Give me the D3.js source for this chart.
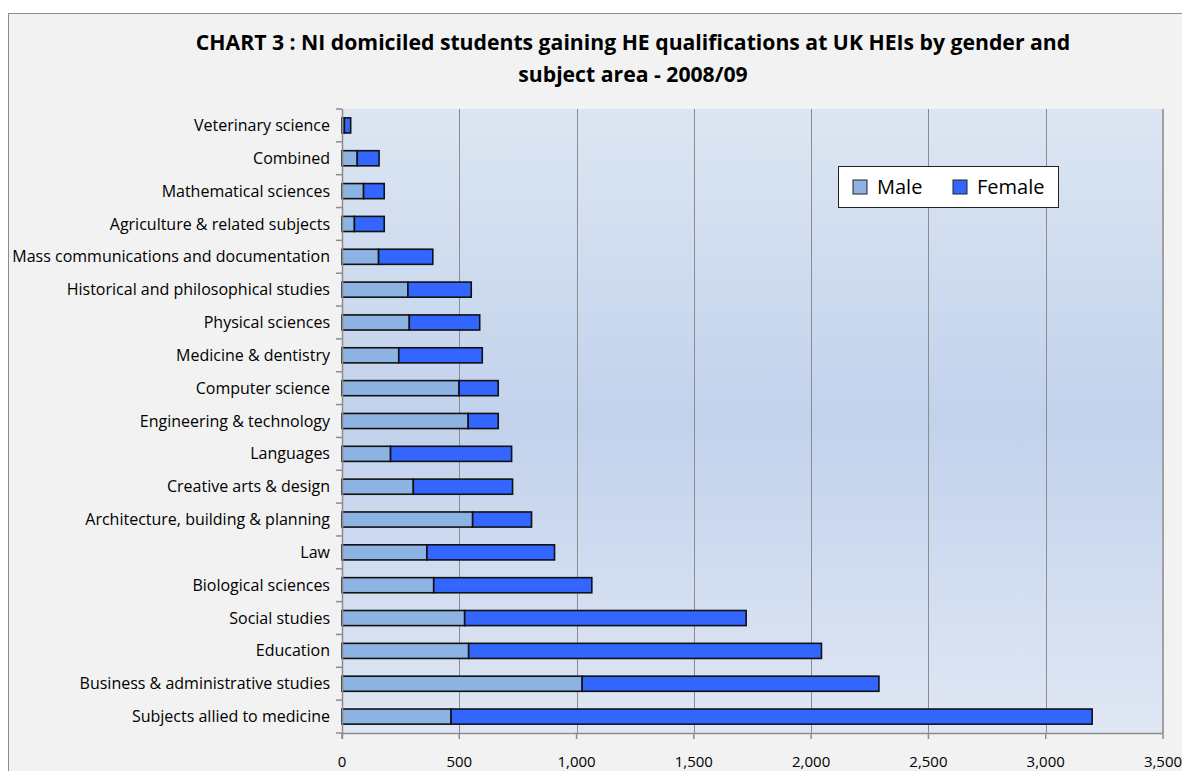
<!DOCTYPE html>
<html><head><meta charset="utf-8">
<script src="https://cdn.jsdelivr.net/npm/d3@7"></script>
<style>
html,body{margin:0;padding:0;background:#fff;}
svg{display:block;}
</style></head>
<body>
<svg id="chart" width="1182" height="771"></svg>
<script>
const categories = [
  "Veterinary science",
  "Combined",
  "Mathematical sciences",
  "Agriculture & related subjects",
  "Mass communications and documentation",
  "Historical and philosophical studies",
  "Physical sciences",
  "Medicine & dentistry",
  "Computer science",
  "Engineering & technology",
  "Languages",
  "Creative arts & design",
  "Architecture, building & planning",
  "Law",
  "Biological sciences",
  "Social studies",
  "Education",
  "Business & administrative studies",
  "Subjects allied to medicine"
];
const maleValues =   [10, 65, 92, 53, 156, 281, 287, 242, 499, 538, 207, 304, 557, 362, 391, 523, 540, 1024, 465];
const femaleValues = [27, 93, 88, 127, 231, 270, 300, 356, 167, 128, 516, 423, 251, 544, 674, 1200, 1504, 1265, 2733];
const seriesNames = ["Male", "Female"];
const xTicks = [0, 500, 1000, 1500, 2000, 2500, 3000, 3500];
const titleLines = ["CHART 3 : NI domiciled students gaining HE qualifications at UK HEIs by gender and", "subject area - 2008/09"];

const colors = {Male: "#8db3e2", Female: "#3366ff"};
const svg = d3.select("#chart");
const FONT = "'Open Sans', Lato, sans-serif";

// chart background
svg.append("rect").attr("x", 0).attr("y", 0).attr("width", 1182).attr("height", 771).attr("fill", "#ffffff");
svg.append("rect").attr("x", 8.5).attr("y", 13.5).attr("width", 1190).attr("height", 780)
  .attr("fill", "#f2f2f2").attr("stroke", "#8c8c8c").attr("stroke-width", 1);

const plot = {left: 342, top: 109, right: 1163, bottom: 733};

const defs = svg.append("defs");
const grad = defs.append("linearGradient").attr("id", "bg").attr("x1", 0).attr("y1", 0).attr("x2", 0).attr("y2", 1);
grad.append("stop").attr("offset", "0%").attr("stop-color", "#dce6f2");
grad.append("stop").attr("offset", "50%").attr("stop-color", "#c2d2ec");
grad.append("stop").attr("offset", "100%").attr("stop-color", "#e0e7f4");

svg.append("rect").attr("x", plot.left).attr("y", plot.top)
  .attr("width", plot.right - plot.left).attr("height", plot.bottom - plot.top)
  .attr("fill", "url(#bg)");

const x = d3.scaleLinear().domain([0, 3500]).range([plot.left, plot.right]);
const y = d3.scaleBand().domain(categories).range([plot.top, plot.bottom]).paddingInner(0.54).paddingOuter(0.27);
const yb = d3.scaleBand().domain(categories).range([plot.top, plot.bottom]);

// gridlines
svg.append("g").selectAll("line").data(xTicks.filter(d => d > 0 && d < 3500)).join("line")
  .attr("x1", d => Math.round(x(d)) + 0.5).attr("x2", d => Math.round(x(d)) + 0.5)
  .attr("y1", plot.top).attr("y2", plot.bottom)
  .attr("stroke", "#8c8c8c").attr("stroke-width", 1);

// right border
svg.append("line").attr("x1", plot.right).attr("x2", plot.right).attr("y1", plot.top).attr("y2", plot.bottom)
  .attr("stroke", "#a0a0a0").attr("stroke-width", 2);

// stacked data
const rows = categories.map((c, i) => ({cat: c, Male: maleValues[i], Female: femaleValues[i]}));
const stack = d3.stack().keys(seriesNames)(rows);

svg.append("g").selectAll("g").data(stack).join("g")
  .attr("fill", d => colors[d.key])
  .selectAll("rect").data(d => d).join("rect")
  .attr("x", d => x(d[0]))
  .attr("y", d => y(d.data.cat))
  .attr("width", d => x(d[1]) - x(d[0]))
  .attr("height", y.bandwidth())
  .attr("stroke", "#111").attr("stroke-width", 1.6);

// y axis
const yAxisG = svg.append("g").attr("transform", `translate(${plot.left},0)`);
yAxisG.append("line").attr("x1", 0.5).attr("x2", 0.5).attr("y1", plot.top).attr("y2", plot.bottom + 6)
  .attr("stroke", "#8c8c8c").attr("stroke-width", 1.5);
const bounds = categories.map(c => yb(c)).concat([plot.bottom]);
yAxisG.selectAll("line.tk").data(bounds).join("line").attr("class", "tk")
  .attr("x1", -6).attr("x2", 0).attr("y1", d => d).attr("y2", d => d)
  .attr("stroke", "#8c8c8c").attr("stroke-width", 1.5);
yAxisG.selectAll("text").data(categories).join("text")
  .attr("x", -12).attr("y", d => yb(d) + yb.bandwidth() / 2)
  .attr("dy", "0.35em").attr("text-anchor", "end")
  .attr("font-family", FONT).attr("font-size", 16).attr("fill", "#000")
  .text(d => d);

// x axis
const xAxisG = svg.append("g").attr("transform", `translate(0,${plot.bottom})`);
xAxisG.append("line").attr("x1", plot.left).attr("x2", plot.right).attr("y1", 0.5).attr("y2", 0.5)
  .attr("stroke", "#8c8c8c").attr("stroke-width", 1.5);
xAxisG.selectAll("line.tk").data(xTicks).join("line").attr("class", "tk")
  .attr("x1", d => x(d)).attr("x2", d => x(d)).attr("y1", 0).attr("y2", 6)
  .attr("stroke", "#8c8c8c").attr("stroke-width", 1.5);
xAxisG.selectAll("text").data(xTicks).join("text")
  .attr("x", d => x(d)).attr("y", 29).attr("dy", "0.35em").attr("text-anchor", "middle")
  .attr("font-family", FONT).attr("font-size", 15).attr("fill", "#000")
  .text(d => d3.format(",")(d));

// title
svg.append("g").selectAll("text").data(titleLines).join("text")
  .attr("x", 633).attr("y", (d, i) => 50 + i * 32)
  .attr("text-anchor", "middle").attr("font-family", FONT).attr("font-weight", "bold")
  .attr("font-size", 21.2).attr("fill", "#000").text(d => d);

// legend
const lg = svg.append("g").attr("transform", "translate(838,166)");
lg.append("rect").attr("x", 0.5).attr("y", 0.5).attr("width", 220).attr("height", 41)
  .attr("fill", "#fff").attr("stroke", "#222").attr("stroke-width", 1);
const items = lg.selectAll("g.it").data(seriesNames).join("g").attr("class", "it")
  .attr("transform", (d, i) => `translate(${15 + i * 100},0)`);
items.append("rect").attr("x", 0).attr("y", 14).attr("width", 14).attr("height", 14)
  .attr("fill", d => colors[d]).attr("stroke", "#222").attr("stroke-width", 1);
items.append("text").attr("x", 24).attr("y", 21).attr("dy", "0.36em")
  .attr("font-family", FONT).attr("font-size", 20).attr("fill", "#000").text(d => d);
</script>
</body></html>
